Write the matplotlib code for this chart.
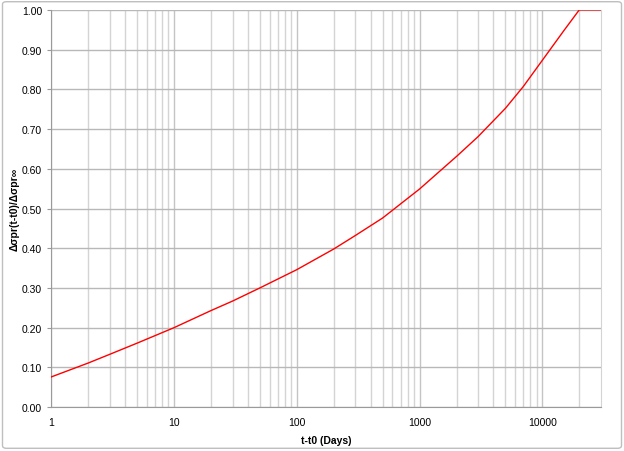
import matplotlib
matplotlib.use("Agg")
import matplotlib.pyplot as plt
from matplotlib import font_manager
from matplotlib.patches import FancyBboxPatch
from matplotlib.ticker import FixedLocator, NullFormatter

# values
t_days = [1, 2, 3, 5, 10, 20, 30, 50, 100, 200, 300, 500, 1000, 1500, 2000, 3000, 5000,
          7000, 10000, 15000, 20000, 30000]
ratio = [0.076, 0.111, 0.133, 0.161, 0.200, 0.243, 0.267, 0.300, 0.346, 0.398, 0.432, 0.476,
         0.549, 0.597, 0.631, 0.681, 0.752, 0.807, 0.873, 0.948, 1.000, 1.000]

x_major = [1, 10, 100, 1000, 10000]
x_minor = [m * d for d in [1, 10, 100, 1000] for m in range(2, 10)] + [20000]
y_ticks = [i / 10 for i in range(11)]

names = {f.name for f in font_manager.fontManager.ttflist}
fam = "Liberation Sans Narrow" if "Liberation Sans Narrow" in names else "Liberation Sans"
plt.rcParams["font.family"] = [fam, "DejaVu Sans"]

fig = plt.figure(figsize=(6.24, 4.52), dpi=100)
# outer chart border
fig.patches.append(FancyBboxPatch((0.004, 0.006), 0.992, 0.988, boxstyle="round,pad=0,rounding_size=0.006",
                                  transform=fig.transFigure, fc="none", ec="#bfbfbf", lw=1.0))
ax = fig.add_axes([0.082, 0.097, 0.881, 0.879])

ax.plot(t_days, ratio, color="#ff0000", lw=1.0, zorder=3)
ax.set_xscale("log")
ax.set_xlim(1, 30000)
ax.set_ylim(0, 1)

ax.xaxis.set_major_locator(FixedLocator(x_major))
ax.xaxis.set_minor_locator(FixedLocator(x_minor))
ax.xaxis.set_minor_formatter(NullFormatter())
ax.set_xticklabels([str(v) for v in x_major])
ax.set_yticks(y_ticks)
ax.set_yticklabels(["%.2f" % v for v in y_ticks])

ax.grid(True, which="major", axis="x", color="#c4c4c4", lw=1.0)
ax.grid(True, which="minor", axis="x", color="#d4d4d4", lw=1.0)
ax.grid(True, which="major", axis="y", color="#b8b8b8", lw=1.0)
ax.set_axisbelow(True)

ax.spines["top"].set_visible(False)
ax.spines["right"].set_color("#d4d4d4")
ax.spines["left"].set_color("#9a9a9a")
ax.spines["bottom"].set_color("#9a9a9a")

ax.tick_params(axis="both", which="major", labelsize=7.5, color="#9a9a9a", length=3, width=0.8)
ax.tick_params(axis="x", which="minor", length=0)
ax.tick_params(axis="x", which="major", length=0, pad=7)

ax.set_xlabel("t-t0 (Days)", fontsize=7.5, fontweight="bold", labelpad=6)
ax.set_ylabel("Δσpr(t-t0)/Δσpr∞", fontsize=7.5, fontweight="bold")
ax.yaxis.set_label_coords(-0.058, 0.5)

fig.savefig("out.png", dpi=100)
